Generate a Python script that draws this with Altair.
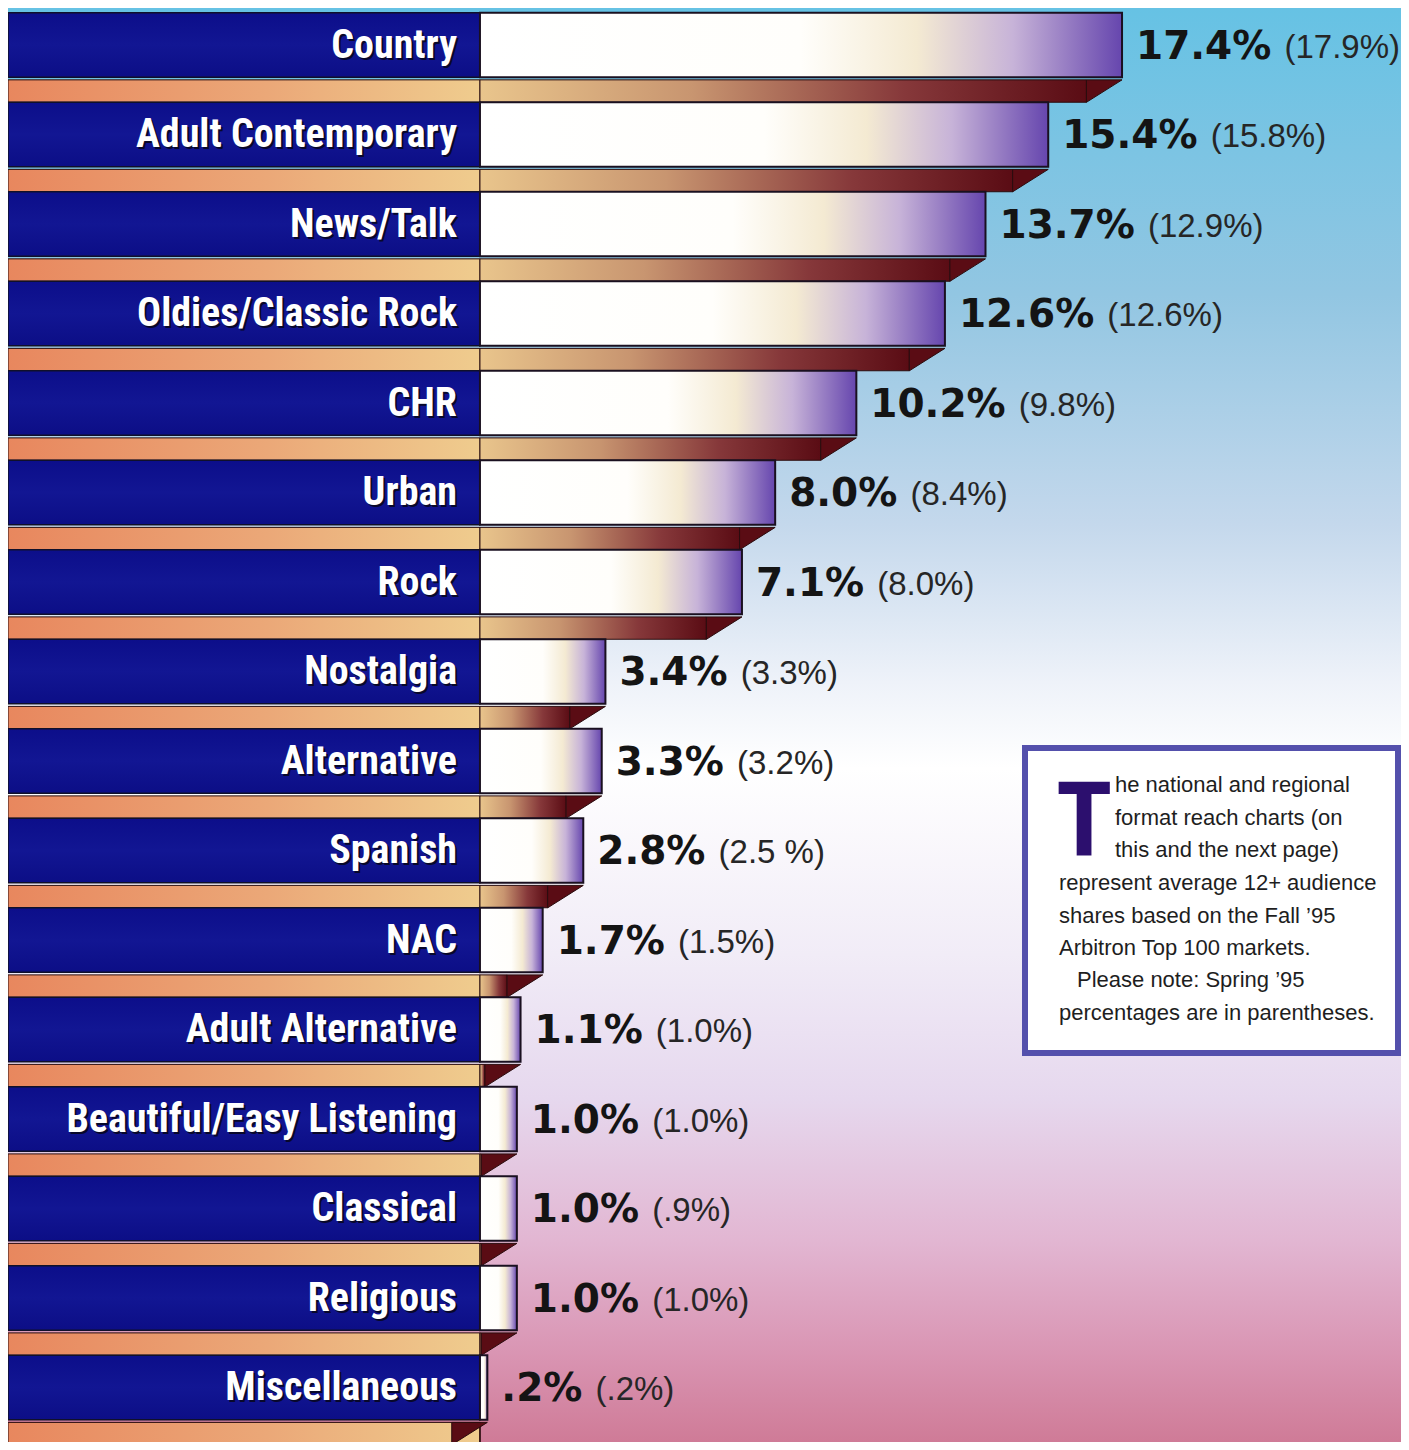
import altair as alt
import pandas as pd

# ---------------- data ----------------
categories = ["Country", "Adult Contemporary", "News/Talk", "Oldies/Classic Rock", "CHR",
              "Urban", "Rock", "Nostalgia", "Alternative", "Spanish", "NAC",
              "Adult Alternative", "Beautiful/Easy Listening", "Classical", "Religious",
              "Miscellaneous"]
fall95 = [17.4, 15.4, 13.7, 12.6, 10.2, 8.0, 7.1, 3.4, 3.3, 2.8, 1.7, 1.1, 1.0, 1.0, 1.0, 0.2]
fall95_labels = ["17.4%", "15.4%", "13.7%", "12.6%", "10.2%", "8.0%", "7.1%", "3.4%", "3.3%",
                 "2.8%", "1.7%", "1.1%", "1.0%", "1.0%", "1.0%", ".2%"]
spring95 = [17.9, 15.8, 12.9, 12.6, 9.8, 8.4, 8.0, 3.3, 3.2, 2.5, 1.5, 1.0, 1.0, 0.9, 1.0, 0.2]
spring95_labels = ["(17.9%)", "(15.8%)", "(12.9%)", "(12.6%)", "(9.8%)", "(8.4%)", "(8.0%)",
                   "(3.3%)", "(3.2%)", "(2.5 %)", "(1.5%)", "(1.0%)", "(1.0%)", "(.9%)",
                   "(1.0%)", "(.2%)"]
note_block1 = ["he national and regional", "format reach charts (on", "this and the next page)"]
note_block2 = ["represent average 12+ audience", "shares based on the Fall \u201995",
               "Arbitron Top 100 markets."]
note_block3 = ["Please note: Spring \u201995"]
note_block4 = ["percentages are in parentheses."]

df = pd.DataFrame({
    "category": categories,
    "value": fall95,
    "bold": fall95_labels,
    "spring": spring95,
    "paren": spring95_labels,
})
df["idx"] = range(len(df))

# ---------------- geometry ----------------
W, H = 1393, 1434
X_MIN, X_MAX = -12.79, 24.96
PX = W / (X_MAX - X_MIN)          # pixels per percentage point
SLANT = 35.6                      # px width of the slanted shadow end

xs = alt.Scale(domain=[X_MIN, X_MAX], nice=False, zero=False)
ys = alt.Scale(domain=[-0.413, 15.609], nice=False, zero=False, reverse=True)


def grad(stops, vertical=False):
    return alt.LinearGradient(
        gradient="linear",
        stops=[alt.GradientStop(offset=o, color=c) for o, c in stops],
        x1=0, y1=0, x2=0 if vertical else 1, y2=1 if vertical else 0,
    )


base = alt.Chart(df).transform_calculate(
    lo=str(X_MIN),
    zero="0",
    btop="datum.idx - 0.36",
    bbot="datum.idx + 0.36",
    stop_="datum.idx + 0.39",
    sbot="datum.idx + 0.64",
    send=f"max(datum.value - {SLANT / PX}, 0)",
    px=f"datum.value + ((length(datum.bold) - 2) * 27.14 + 54.0 + 14 + 13) / {PX}",
)

# background
bg = alt.Chart(pd.DataFrame({"a": [0]})).mark_rect(
    fill=grad([(0, "#66c2e4"), (0.2, "#92c6e2"), (0.36, "#c4d8ec"), (0.47, "#eef2f9"),
               (0.53, "#ffffff"), (0.66, "#f1ecf7"), (0.76, "#e6d8ee"), (0.86, "#e2b6d2"),
               (0.94, "#d994b2"), (1, "#cf7b97")], vertical=True)
).encode(x=alt.value(0), x2=alt.value(W), y=alt.value(0), y2=alt.value(H))

# shadow strip under the label panel
strip_label = base.mark_rect(
    fill=grad([(0, "#e8875e"), (0.55, "#eba878"), (1, "#efcc8e")]),
    stroke="#2a0c0e", strokeWidth=1,
).encode(
    x=alt.X("lo:Q", scale=xs, axis=None), x2="zero:Q",
    y=alt.Y("stop_:Q", scale=ys, axis=None), y2="sbot:Q",
)

# shadow strip under the bar
strip_bar = base.mark_rect(
    fill=grad([(0, "#e9c58c"), (0.35, "#c89570"), (0.7, "#86383a"), (1, "#5a0c14")]),
    stroke="#2a0c0e", strokeWidth=1,
).encode(
    x=alt.X("zero:Q", scale=xs, axis=None), x2="send:Q",
    y=alt.Y("stop_:Q", scale=ys, axis=None), y2="sbot:Q",
)

# slanted end of the strip
strip_end = base.mark_point(
    shape="M0,0 L-1,0 L-1,0.63 Z", size=(2 * SLANT) ** 2, filled=True,
    fill="#5a0c14", stroke="#2a0c0e", strokeWidth=1, opacity=1,
).encode(
    x=alt.X("value:Q", scale=xs, axis=None),
    y=alt.Y("stop_:Q", scale=ys, axis=None),
)

# dark blue label panel
panel = base.mark_rect(
    fill=grad([(0, "#0c0e8a"), (0.5, "#121693"), (1, "#0c0e86")], vertical=True),
    stroke="#10102a", strokeWidth=1.5,
).encode(
    x=alt.X("lo:Q", scale=xs, axis=None), x2="zero:Q",
    y=alt.Y("btop:Q", scale=ys, axis=None), y2="bbot:Q",
)

# the bars
bars = base.mark_rect(
    fill=grad([(0, "#ffffff"), (0.5, "#fffefb"), (0.68, "#f4ead2"), (0.83, "#c7b3d8"),
               (1, "#6646ae")]),
    stroke="#1a1020", strokeWidth=2,
).encode(
    x=alt.X("zero:Q", scale=xs, axis=None), x2="value:Q",
    y=alt.Y("btop:Q", scale=ys, axis=None), y2="bbot:Q",
)

label_font = ("Noto Sans Condensed, Roboto Condensed, Liberation Sans Narrow, "
              "DejaVu Sans Condensed, sans-serif")
label_shadow = base.mark_text(
    align="right", baseline="middle", font=label_font, fontWeight="bold",
    fontSize=40, color="#08082a", dx=2, dy=3,
).encode(x=alt.value(449), y=alt.Y("idx:Q", scale=ys, axis=None), text="category:N")

label_text = base.mark_text(
    align="right", baseline="middle", font=label_font, fontWeight="bold",
    fontSize=40, color="#ffffff", dy=1,
).encode(x=alt.value(449), y=alt.Y("idx:Q", scale=ys, axis=None), text="category:N")

bold_text = base.mark_text(
    align="left", baseline="middle", font="DejaVu Sans", fontWeight="bold",
    fontSize=39, color="#141414", dx=14, dy=2,
).encode(x=alt.X("value:Q", scale=xs, axis=None),
         y=alt.Y("idx:Q", scale=ys, axis=None), text="bold:N")

paren_text = base.mark_text(
    align="left", baseline="middle", font="Liberation Sans, Arial, sans-serif",
    fontSize=33, color="#262626", dy=3,
).encode(x=alt.X("px:Q", scale=xs, axis=None),
         y=alt.Y("idx:Q", scale=ys, axis=None), text="paren:N")

# note box
one = pd.DataFrame({"a": [0]})
note_box = alt.Chart(one).mark_rect(
    fill="#ffffff", stroke="#5450ac", strokeWidth=6,
).encode(x=alt.value(1017), x2=alt.value(W - 3), y=alt.value(740), y2=alt.value(1045))

drop_cap = alt.Chart(one).mark_text(
    text="T", align="left", baseline="alphabetic",
    font="Noto Sans Condensed, Roboto Condensed, Liberation Sans Narrow, Noto Sans, sans-serif",
    fontWeight="bold", fontSize=104, color="#2c0f6e",
).encode(x=alt.value(1048), y=alt.value(848))

note_font = "Liberation Sans, Arial, sans-serif"


def note(lines, x, y):
    return alt.Chart(one).mark_text(
        text=lines, align="left", baseline="alphabetic", font=note_font,
        fontSize=22, lineHeight=32.6, color="#1e1e1e",
    ).encode(x=alt.value(x), y=alt.value(y))


notes = [
    note(note_block1, 1107, 784),
    note(note_block2, 1051, 882),
    note(note_block3, 1069, 979),
    note(note_block4, 1051, 1012),
]

chart = alt.layer(
    bg, strip_label, strip_bar, strip_end, panel, bars,
    label_shadow, label_text, bold_text, paren_text,
    note_box, drop_cap, *notes,
).properties(
    width=W, height=H, padding=0,
    autosize=alt.AutoSizeParams(type="none"),
).configure_view(strokeWidth=0)

chart.save("out.html", embed_options={"renderer": "svg", "actions": False})
